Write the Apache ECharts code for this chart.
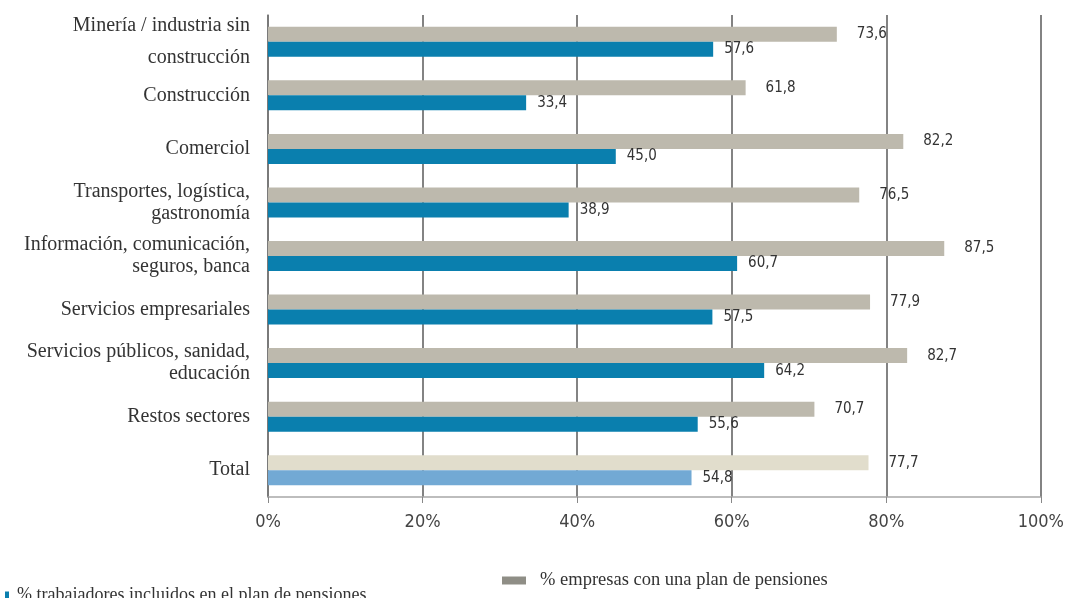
<!DOCTYPE html>
<html>
<head>
<meta charset="utf-8">
<script src="https://cdn.jsdelivr.net/npm/echarts@6/dist/echarts.min.js"></script>
<style>
  html, body { margin: 0; padding: 0; background: #fff; }
  #chart { width: 1067px; height: 598px; }
</style>
</head>
<body>
<div id="chart"></div>
<script>
// Sector names (top to bottom)
const categories = [
  'Minería / industria sin\nconstrucción',
  'Construcción',
  'Comerciol',
  'Transportes, logística,\ngastronomía',
  'Información, comunicación,\nseguros, banca',
  'Servicios empresariales',
  'Servicios públicos, sanidad,\neducación',
  'Restos sectores',
  'Total'
];
// % empresas con una plan de pensiones
const empresas = [73.6, 61.8, 82.2, 76.5, 87.5, 77.9, 82.7, 70.7, 77.7];
// % trabajadores incluidos en el plan de pensiones
const trabajadores = [57.6, 33.4, 45.0, 38.9, 60.7, 57.5, 64.2, 55.6, 54.8];
// x axis ticks
const xTicks = [0, 20, 40, 60, 80, 100];

const seriesEmpresas = '% empresas con una plan de pensiones';
const seriesTrabajadores = '% trabajadores incluidos en el plan de pensiones';

const GRAY = '#bdb9ad', GRAY_TOTAL = '#e1ddcc';
const BLUE = '#0a7fae', BLUE_TOTAL = '#72a9d4';
const NARROW = '"Liberation Sans Narrow", "DejaVu Sans Condensed", "Roboto", sans-serif';
const SERIF = '"Liberation Serif", "DejaVu Serif", serif';

const fmt = v => v.toFixed(1).replace('.', ',');
const totalIdx = categories.indexOf('Total');

function colored(values, base, total) {
  return values.map((v, i) => ({ value: v, itemStyle: { color: i === totalIdx ? total : base } }));
}

const chart = echarts.init(document.getElementById('chart'), null, { renderer: 'canvas' });
chart.setOption({
  animation: false,
  backgroundColor: '#fff',
  grid: { left: 268, right: 24, top: 15, bottom: 101, containLabel: false },
  legend: [
    {
      data: [seriesTrabajadores],
      left: 0, top: 581,
      icon: 'rect', itemWidth: 4, itemHeight: 7, itemGap: 0,
      textStyle: { fontFamily: SERIF, fontSize: 18, color: '#333', padding: [0, 0, 0, 3] }
    },
    {
      data: [seriesEmpresas],
      left: 497, top: 566,
      icon: 'rect', itemWidth: 24, itemHeight: 8, itemGap: 0,
      itemStyle: { color: '#8f8e86' },
      textStyle: { fontFamily: SERIF, fontSize: 18.5, color: '#333', padding: [0, 0, 0, 9] }
    }
  ],
  xAxis: {
    type: 'value',
    min: xTicks[0], max: xTicks[xTicks.length - 1], interval: xTicks[1] - xTicks[0],
    axisLine: { show: true, lineStyle: { color: '#a8a8a8', width: 1.5 } },
    axisTick: { show: true, length: 6, lineStyle: { color: '#888' } },
    splitLine: { show: true, lineStyle: { color: '#5a5a5a', width: 1.5 } },
    axisLabel: {
      formatter: '{value}%', margin: 16,
      fontFamily: NARROW, fontSize: 18, color: '#444'
    }
  },
  yAxis: {
    type: 'category',
    data: categories,
    inverse: true,
    axisLine: { show: true, lineStyle: { color: '#777', width: 1.5 } },
    axisTick: { show: false },
    axisLabel: {
      margin: 18,
      fontFamily: SERIF, fontSize: 20, color: '#333', lineHeight: 22,
      formatter: (v, i) => i === 0 ? '{wide|' + v + '}' : v,
      rich: { wide: { fontFamily: SERIF, fontSize: 20, color: '#333', lineHeight: 32, align: 'right' } }
    }
  },
  series: [
    {
      name: seriesEmpresas,
      type: 'bar',
      data: colored(empresas, GRAY, GRAY_TOTAL),
      itemStyle: { color: GRAY },
      barWidth: 15, barGap: '0%',
      label: {
        show: true, position: 'right', distance: 20,
        formatter: p => fmt(p.value),
        fontFamily: NARROW, fontSize: 15, color: '#333'
      }
    },
    {
      name: seriesTrabajadores,
      type: 'bar',
      data: colored(trabajadores, BLUE, BLUE_TOTAL),
      itemStyle: { color: BLUE },
      barWidth: 15, barGap: '0%',
      label: {
        show: true, position: 'right', distance: 11,
        formatter: p => fmt(p.value),
        fontFamily: NARROW, fontSize: 15, color: '#333'
      }
    }
  ]
});
</script>
</body>
</html>
